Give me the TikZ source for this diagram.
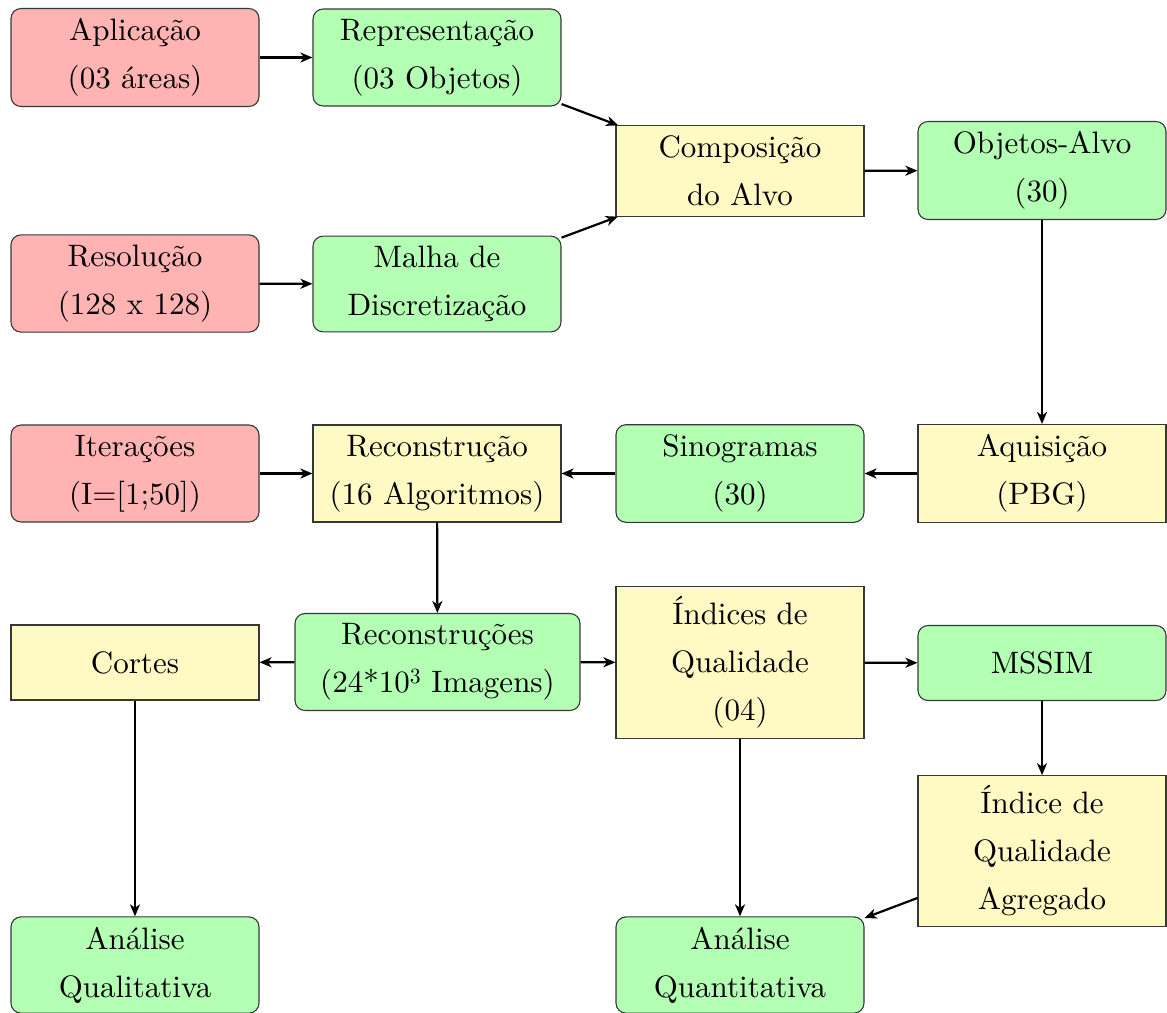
\documentclass[tikz,border=0pt]{standalone}
\usepackage{fontspec}
\setmainfont{lmroman10-regular}[Extension=.otf]
\usetikzlibrary{arrows.meta}
\definecolor{cred}{RGB}{255,179,179}
\definecolor{cgreen}{RGB}{179,255,179}
\definecolor{cyellow}{RGB}{255,249,196}
\definecolor{cborder}{RGB}{55,55,55}
\tikzset{
  basebox/.style={draw=cborder, line width=1.1pt, align=center, inner sep=10pt,
    minimum width=248pt, minimum height=75pt, font=\fontsize{31}{48}\selectfont},
  redbox/.style={basebox, fill=cred, rounded corners=10pt},
  greenbox/.style={basebox, fill=cgreen, rounded corners=10pt},
  yellowbox/.style={basebox, fill=cyellow},
  conn/.style={-{Stealth[length=12pt,width=10pt,inset=3.5pt]}, line width=2.2pt, black}
}
\begin{document}
\begin{tikzpicture}[x=1pt,y=-1pt]
\useasboundingbox (0,0) rectangle (1167,1012);
\node[redbox] (apl) at (135,57.5) {Aplicação\\(03 áreas)};
\node[greenbox] (rep) at (437,57.5) {Representação\\(03 Objetos)};
\node[redbox] (res) at (135,283.5) {Resolução\\(128 x 128)};
\node[greenbox] (mal) at (437,284) {Malha de\\Discretização};
\node[yellowbox] (comp) at (740,171) {Composição\\do Alvo};
\node[greenbox] (obj) at (1042,170.5) {Objetos-Alvo\\(30)};
\node[yellowbox] (aq) at (1042,473.5) {Aquisição\\(PBG)};
\node[greenbox] (sin) at (740,473.5) {Sinogramas\\(30)};
\node[yellowbox] (rec) at (437,473.5) {Reconstrução\\(16 Algoritmos)};
\node[redbox] (it) at (135,473.5) {Iterações\\(I=[1;50])};
\node[greenbox, minimum width=285pt] (recs) at (437.5,662) {Reconstruções\\(24*10\textsuperscript{3} Imagens)};
\node[yellowbox] (cor) at (135,662.5) {Cortes};
\node[yellowbox] (ind) at (740,662.5) {Índices de\\Qualidade\\(04)};
\node[greenbox] (ms) at (1042,663) {MSSIM};
\node[yellowbox] (agr) at (1042,851) {Índice de\\Qualidade\\Agregado};
\node[greenbox] (aql) at (135,965) {Análise\\Qualitativa};
\node[greenbox] (aqt) at (740,965) {Análise\\Quantitativa};

\draw[conn] (apl) -- (rep);
\draw[conn] (res) -- (mal);
\draw[conn] (rep) -- (comp);
\draw[conn] (mal) -- (comp);
\draw[conn] (comp) -- (obj);
\draw[conn] (obj) -- (aq);
\draw[conn] (aq) -- (sin);
\draw[conn] (sin) -- (rec);
\draw[conn] (it) -- (rec);
\draw[conn] (rec) -- (recs);
\draw[conn] (recs) -- (cor);
\draw[conn] (recs) -- (ind);
\draw[conn] (ind) -- (ms);
\draw[conn] (ms) -- (agr);
\draw[conn] (ind) -- (aqt);
\draw[conn] (cor) -- (aql);
\draw[conn] (agr) -- (aqt);
\end{tikzpicture}
\end{document}
